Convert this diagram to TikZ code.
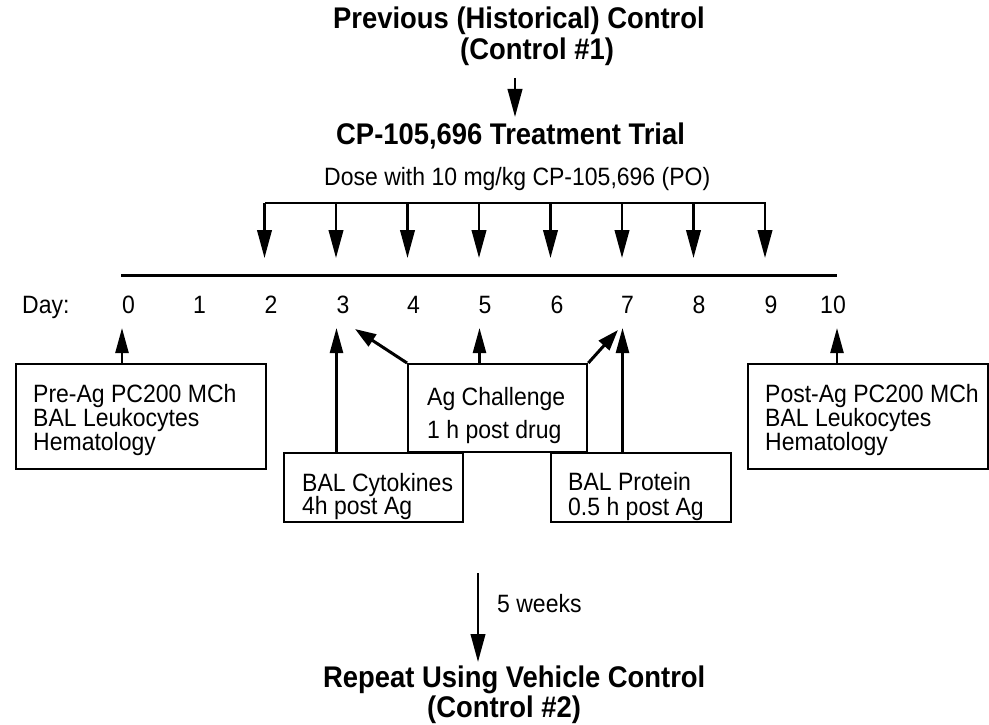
\documentclass[tikz,border=0pt]{standalone}
\usepackage{fontspec}
\setmainfont{Liberation Sans}
\usetikzlibrary{arrows.meta}
\newcommand{\vstr}[1]{\scalebox{1}[1.09]{#1}}
\begin{document}
\begin{tikzpicture}[x=1pt,y=-1pt,
  txt/.style={inner sep=0pt, font=\fontsize{23}{25}\selectfont},
  ttl/.style={inner sep=0pt, font=\fontsize{27.4}{30}\selectfont\bfseries},
  boxn/.style={draw, line width=2.3pt, inner sep=0pt},
  ln/.style={line width=2.4pt},
  dosearr/.style={line width=2.4pt, -{Triangle[length=28pt,width=14.5pt]}},
  uparr/.style={line width=2.4pt, -{Triangle[length=25pt,width=13pt]}},
  diagarr/.style={line width=3pt, -{Triangle[length=21pt,width=14pt]}},
]
\useasboundingbox (0,0) rectangle (989,725);

% titles
\node[ttl, anchor=base west] (prev) at (333,29) {\vstr{Previous (Historical) Control}};
\node[ttl, anchor=base west] (ctrl1) at (460,60) {\vstr{(Control \#1)}};
\node[ttl, anchor=base west] (trial) at (336,144) {\vstr{CP-105,696 Treatment Trial}};
\node[txt, anchor=base west] (dose) at (324,185.5) {\vstr{Dose with 10 mg/kg CP-105,696 (PO)}};

\coordinate (ta) at (515,78);
\coordinate (tb) at (515,117);
\draw[dosearr] (ta) -- (tb);

% dose bracket
\coordinate (dtop2) at (265,203);
\coordinate (dtop9) at (765.5,203);
\draw[ln] (dtop2) -- (dtop9);
\foreach \d in {2,...,9}{
  \coordinate (dt\d) at ({121.5+71.5*\d},203);
  \coordinate (dp\d) at ({121.5+71.5*\d},258);
  \draw[dosearr] (dt\d) -- (dp\d);
}

% timeline
\coordinate (tl0) at (121,275);
\coordinate (tl1) at (837,275);
\draw[line width=3pt] (tl0) -- (tl1);

% day labels
\node[txt, anchor=base west] (daylbl) at (22,313) {\vstr{Day:}};
\foreach \n/\x in {0/128.5,1/199.5,2/271,3/343,4/413.5,5/485,6/557,7/627.5,8/699,9/771,10/833}{
  \node[txt, anchor=base] (day\n) at (\x,313) {\vstr{\n}};
}

% boxes
\node[boxn, minimum width=250pt, minimum height=105pt, anchor=north west] (pre) at (15,363) {};
\node[boxn, minimum width=240pt, minimum height=105pt, anchor=north west] (post) at (747,363) {};
\node[boxn, minimum width=179pt, minimum height=88pt, anchor=north west] (ag) at (407,363) {};
\node[boxn, minimum width=179pt, minimum height=69pt, anchor=north west] (cyt) at (283,451.5) {};
\node[boxn, minimum width=180pt, minimum height=69pt, anchor=north west] (prot) at (550,452) {};

% box texts
\node[txt, anchor=base west] (pre1) at (33,402) {\vstr{Pre-Ag PC200 MCh}};
\node[txt, anchor=base west] (pre2) at (33,426) {\vstr{BAL Leukocytes}};
\node[txt, anchor=base west] (pre3) at (33,450) {\vstr{Hematology}};
\node[txt, anchor=base west] (post1) at (765,402) {\vstr{Post-Ag PC200 MCh}};
\node[txt, anchor=base west] (post2) at (765,426) {\vstr{BAL Leukocytes}};
\node[txt, anchor=base west] (post3) at (765,450) {\vstr{Hematology}};
\node[txt, anchor=base west] (ag1) at (427,405) {\vstr{Ag Challenge}};
\node[txt, anchor=base west] (ag2) at (427,438) {\vstr{1 h post drug}};
\node[txt, anchor=base west] (cyt1) at (302,491) {\vstr{BAL Cytokines}};
\node[txt, anchor=base west] (cyt2) at (302,514) {\vstr{4h post Ag}};
\node[txt, anchor=base west] (prot1) at (568,490) {\vstr{BAL Protein}};
\node[txt, anchor=base west] (prot2) at (568,515) {\vstr{0.5 h post Ag}};

% up arrows
\coordinate (u0) at (122,328);
\coordinate (u3) at (336.5,328);
\coordinate (u5) at (479.5,328);
\coordinate (u7) at (622.5,328);
\coordinate (u10) at (837,328);
\coordinate (dg3) at (355,329);
\coordinate (dg7) at (618,330);
\draw[uparr] (pre.north -| u0) -- (u0);
\draw[uparr] (cyt.north -| u3) -- (u3);
\draw[uparr] (ag.north -| u5) -- (u5);
\draw[uparr] (prot.north -| u7) -- (u7);
\draw[uparr] (post.north -| u10) -- (u10);
\draw[diagarr] (ag.north west) -- (dg3);
\draw[diagarr] (ag.north east) -- (dg7);

% bottom
\coordinate (ba) at (478,573);
\coordinate (bb) at (478,662);
\draw[dosearr] (ba) -- (bb);
\node[txt, anchor=base west] (weeks) at (497,612) {\vstr{5 weeks}};
\node[ttl, anchor=base west] (repeat) at (323,687) {\vstr{Repeat Using Vehicle Control}};
\node[ttl, anchor=base west] (ctrl2) at (427,717) {\vstr{(Control \#2)}};
\end{tikzpicture}
\end{document}
